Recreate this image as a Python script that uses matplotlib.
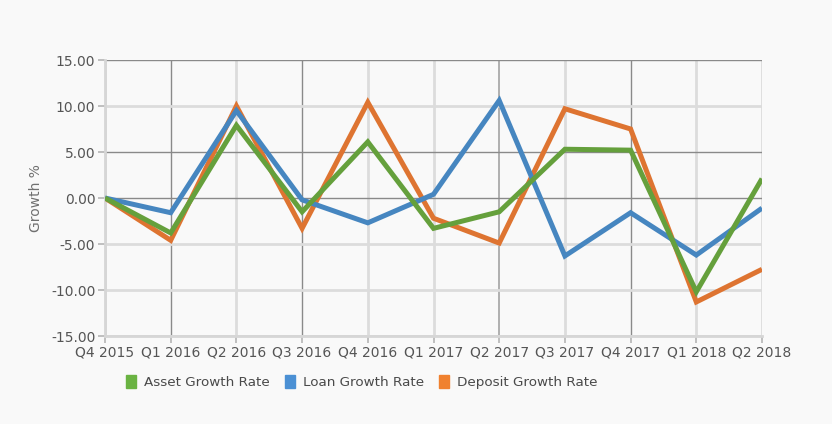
import matplotlib
matplotlib.use("Agg")
import matplotlib.pyplot as plt
from matplotlib.patches import Patch

quarters = ["Q4 2015", "Q1 2016", "Q2 2016", "Q3 2016", "Q4 2016", "Q1 2017",
            "Q2 2017", "Q3 2017", "Q4 2017", "Q1 2018", "Q2 2018"]
asset_growth = [0.0, -3.8, 7.9, -1.5, 6.1, -3.3, -1.5, 5.3, 5.2, -10.2, 2.1]
loan_growth = [0.0, -1.6, 9.5, -0.2, -2.7, 0.4, 10.6, -6.3, -1.6, -6.2, -1.1]
deposit_growth = [0.0, -4.6, 10.0, -3.3, 10.4, -2.2, -4.9, 9.7, 7.5, -11.3, -7.75]
y_ticks = [-15, -10, -5, 0, 5, 10, 15]

BG = "#f9f9f9"
GREEN, BLUE, ORANGE = "#65a03c", "#4686c0", "#de7431"
LEG_GREEN, LEG_BLUE, LEG_ORANGE = "#6ab342", "#4b90d4", "#f0812f"

plt.rcParams["font.family"] = "DejaVu Sans"

fig = plt.figure(figsize=(8.32, 4.24), dpi=100, facecolor=BG)
ax = fig.add_axes([105 / 832, 1 - 336 / 424, (762 - 105) / 832, (336 - 60) / 424])
ax.set_facecolor(BG)

x = list(range(len(quarters)))

# ── Grid (mix of dark and light lines like the source) ─────────────────────
dark_v = {1, 3, 8}
mid_v = {6}
for i in x:
    if i in dark_v:
        ax.axvline(i, color="#8a8a8a", lw=1.0, zorder=1)
    elif i in mid_v:
        ax.axvline(i, color="#b0b0b0", lw=1.4, zorder=1)
    else:
        ax.axvline(i, color="#dcdcdc", lw=2.0, zorder=1)
dark_h = {15, 5, 0}
for v in y_ticks:
    if v in dark_h:
        ax.axhline(v, color="#8a8a8a", lw=1.0, zorder=1)
    else:
        ax.axhline(v, color="#dcdcdc", lw=2.0, zorder=1)

# ── Series ─────────────────────────────────────────────────────────────────
kw = dict(lw=3.6, solid_joinstyle="miter", solid_capstyle="butt", clip_on=True)
ax.plot(x, deposit_growth, color=ORANGE, zorder=3, **kw)
ax.plot(x, loan_growth, color=BLUE, zorder=4, **kw)
ax.plot(x, asset_growth, color=GREEN, zorder=5, **kw)

ax.set_xlim(0, len(quarters) - 1)
ax.set_ylim(-15, 15)
ax.set_xticks(x)
ax.set_xticklabels(quarters)
ax.set_yticks(y_ticks)
ax.set_yticklabels([f"{v:.2f}" for v in y_ticks])
ax.tick_params(axis="both", colors="#b5b5b5", labelcolor="#555555",
               labelsize=10, length=5, width=1.2)
ax.tick_params(axis="x", pad=2)
ax.tick_params(axis="y", pad=2)

for side in ["top", "right"]:
    ax.spines[side].set_visible(False)
for side in ["left", "bottom"]:
    ax.spines[side].set_color("#d6d6d6")
    ax.spines[side].set_linewidth(2.0)

ax.set_ylabel("Growth %", fontsize=10, color="#707070", labelpad=6)

handles = [Patch(facecolor=LEG_GREEN, edgecolor=LEG_GREEN),
           Patch(facecolor=LEG_BLUE, edgecolor=LEG_BLUE),
           Patch(facecolor=LEG_ORANGE, edgecolor=LEG_ORANGE)]
labels = ["Asset Growth Rate", "Loan Growth Rate", "Deposit Growth Rate"]
leg = fig.legend(handles, labels, loc="center left", bbox_to_anchor=(114 / 832, 1 - 382 / 424),
                 ncol=3, frameon=False, fontsize=9.7, handlelength=0.75, handleheight=1.1,
                 handletextpad=0.6, columnspacing=1.1, labelcolor="#4a4a4a")

fig.savefig("out.png", dpi=100, facecolor=BG)
